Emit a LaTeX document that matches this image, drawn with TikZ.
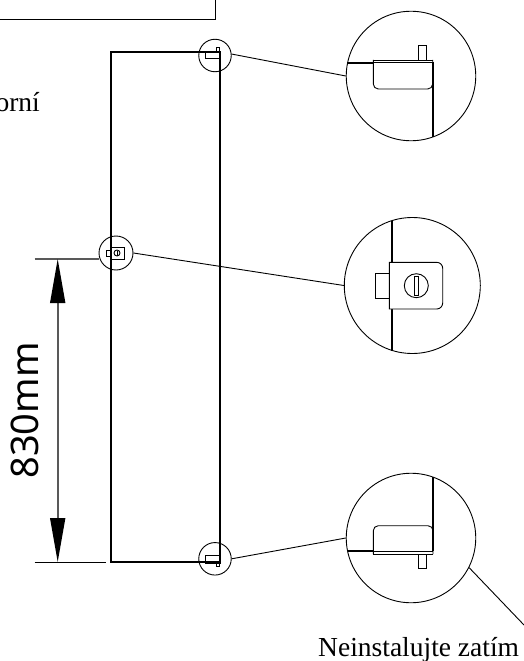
\documentclass[tikz,border=0pt]{standalone}
\usepackage{fontspec}
\setmainfont{Liberation Serif}
\newfontfamily\dimfont{Noto Sans}
\usetikzlibrary{arrows.meta}

\tikzset{
	lens/.style={draw,circle,inner sep=0pt,line width=0.9pt},
	part/.style={line width=0.9pt},
	door/.style={line width=1.7pt},
	dimline/.style={line width=1.6pt,draw=black!65},
	dimarrow/.style={line width=1.6pt,draw=black!65,{Triangle[length=44pt,width=15pt,color=black]}-{Triangle[length=44pt,width=15pt,color=black]}},
	caption/.style={font=\fontsize{27.5}{27.5}\selectfont,inner sep=0pt,anchor=base west}
}

\begin{document}
\begin{tikzpicture}[x=1pt,y=-1pt]
\useasboundingbox (0,0) rectangle (524,661);

% box at the top
\draw [part] (0,19) -- (215,19) -- (215,0);

% door
\draw [door] (111,52) rectangle (220.2,562);

% small circles
\node [lens,minimum size=32.5pt] (topsmall) at (215,55.5) {};
\node [lens,minimum size=34pt] (midsmall) at (116,253) {};
\node [lens,minimum size=32.5pt] (botsmall) at (215,558.8) {};

% big circles
\node [lens,minimum size=129.5pt] (topbig) at (411,76) {};
\node [lens,minimum size=136pt] (midbig) at (412.3,285.5) {};
\node [lens,minimum size=129.5pt] (botbig) at (411,538) {};

\coordinate (freeend) at (524,625);

% leaders
\draw [part] (topsmall.5) -- (topbig.180);
\draw [part] (midsmall.0) -- (midbig.180);
\draw [part] (botsmall.0) -- (botbig.180);
\draw [part] (botbig.-27) -- (freeend);

% small latches
\draw [part] (205.7,52) rectangle (220,58);
\draw [part] (216.3,52) -- (216.3,47.7) -- (219.5,47.7) -- (219.5,52);
\draw [part] (111,247.7) rectangle (124.3,259);
\draw [part] (111,250) -- (106.7,250) -- (106.7,256) -- (111,256);
\draw [part] (117,253) circle (3);
\draw [part] (117,250.5) -- (117,255.5);
\draw [part] (205.3,555.7) rectangle (220.3,563.3);
\draw [part] (216.3,563.3) -- (216.3,566.7) -- (219.3,566.7) -- (219.3,563.3);

% top detail
\draw [door] (347,63) -- (373.3,63);
\draw [door] (433,62) -- (433,137);
\draw [part,rounded corners=5pt] (373.3,60) -- (373.3,89) -- (432.7,89) -- (432.7,60);
\draw [part] (373.3,60) -- (432.7,60);
\draw [part] (373.3,62.7) -- (432.7,62.7);
\draw [part] (418,60) -- (418,45.3) -- (426.7,45.3) -- (426.7,60);

% middle detail
\draw [door] (392.3,220.7) -- (392.3,350.7);
\draw [part,fill=white] (389.3,262.3) -- (389.3,309) [rounded corners=6pt] -- (442.7,309) -- (442.7,262.3) [sharp corners] -- cycle;
\draw [part] (389.3,273.3) -- (375,273.3) -- (375,298.3) -- (389.3,298.3);
\draw [part] (416.3,285.7) circle (12);
\draw [part] (414.7,276) rectangle (418.3,295);

% bottom detail
\draw [door] (433,477.3) -- (433,551);
\draw [door] (347.5,550.7) -- (373.3,550.7);
\draw [part,rounded corners=5pt] (373.3,554) -- (373.3,525.7) -- (433,525.7) -- (433,554);
\draw [part] (373.3,554) -- (433,554);
\draw [part] (373.3,551) -- (433,551);
\draw [part] (418,554) -- (418,568.7) -- (426.7,568.7) -- (426.7,554);

% dimension
\coordinate (dimtop) at (57.7,259);
\coordinate (dimbot) at (57.7,562);
\draw [dimline] (34.7,258.7) -- (99,258.7);
\draw [line width=1pt] (34.7,562) -- (106,562);
\draw [dimarrow] (dimtop) -- (dimbot);
\node [rotate=90,inner sep=0pt,font=\dimfont\fontsize{38}{38}\selectfont] (dimlabel) at (25,410.5) {830mm};

% texts
\node [caption,anchor=base east] (lefttext) at (40,111) {orní};
\node [caption] (bottext) at (318,656) {Neinstalujte zatím};
\end{tikzpicture}
\end{document}
